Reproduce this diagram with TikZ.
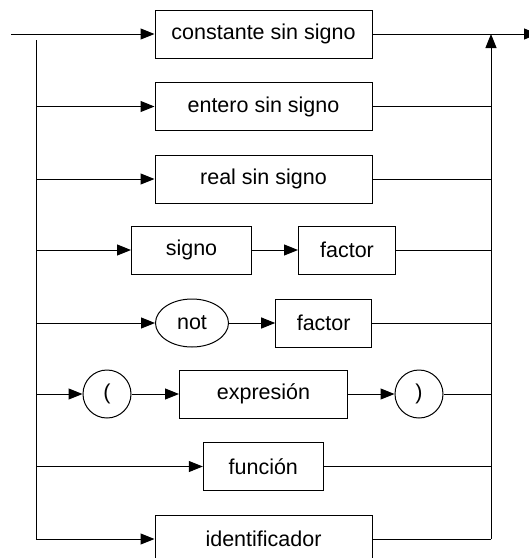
\documentclass[tikz,border=0pt]{standalone}
\usepackage{fontspec}
\setmainfont{Liberation Sans}
\usetikzlibrary{arrows.meta,shapes.geometric}
\begin{document}
\begin{tikzpicture}[x=1pt,y=-1pt, line width=1pt,
  lbl/.style={font=\fontsize{21.5}{26}\selectfont},
  box/.style={draw, rectangle, minimum height=48pt, inner sep=0pt, lbl},
  term/.style={draw, ellipse, minimum height=48pt, inner sep=0pt, lbl},
  arr/.style={-{Triangle[length=14pt,width=11pt]}}]
\useasboundingbox (0,0) rectangle (529,558);
% nodes
\node[box, minimum width=217pt] (c) at (263.5,34) {constante sin signo};
\node[box, minimum width=217pt] (e) at (263.5,106.5) {entero sin signo};
\node[box, minimum width=217pt] (r) at (263.5,179) {real sin signo};
\node[box, minimum width=120pt] (s) at (191.5,250) {signo};
\node[box, minimum width=97pt] (f1) at (347,250) {factor};
\node[term, minimum width=73pt] (n) at (192,323) {not};
\node[box, minimum width=96pt] (f2) at (323.7,323) {factor};
\node[term, minimum width=48pt] (lp) at (107,394) {(};
\node[box, minimum width=168pt] (x) at (263.5,394) {expresión};
\node[term, minimum width=48pt] (rp) at (419,394) {)};
\node[box, minimum width=120pt] (fn) at (263.3,466.5) {función};
\node[box, minimum width=217pt] (id) at (263.5,539) {identificador};
% rails
\coordinate (start) at (11,34);
\coordinate (end) at (538,34);
\coordinate (L0) at (36,40);
\coordinate (L8) at (36,539);
\coordinate (R1) at (491,34);
\coordinate (R8) at (491,539);
\draw[arr] (start) -- (c);
\draw[arr] (c) -- (end);
\draw (L0) -- (L8);
\draw[arr] (L8) -- (id);
\draw (id) -- (R8);
\draw[arr] (R8) -- (R1);
% row 2
\draw[arr] (L0 |- e) -- (e);
\draw (e) -- (R1 |- e);
% row 3
\draw[arr] (L0 |- r) -- (r);
\draw (r) -- (R1 |- r);
% row 4
\draw[arr] (L0 |- s) -- (s);
\draw[arr] (s) -- (f1);
\draw (f1) -- (R1 |- f1);
% row 5
\draw[arr] (L0 |- n) -- (n);
\draw[arr] (n) -- (f2);
\draw (f2) -- (R1 |- f2);
% row 6
\draw[arr] (L0 |- lp) -- (lp);
\draw[arr] (lp) -- (x);
\draw[arr] (x) -- (rp);
\draw (rp) -- (R1 |- rp);
% row 7
\draw[arr] (L0 |- fn) -- (fn);
\draw (fn) -- (R1 |- fn);
\end{tikzpicture}
\end{document}
